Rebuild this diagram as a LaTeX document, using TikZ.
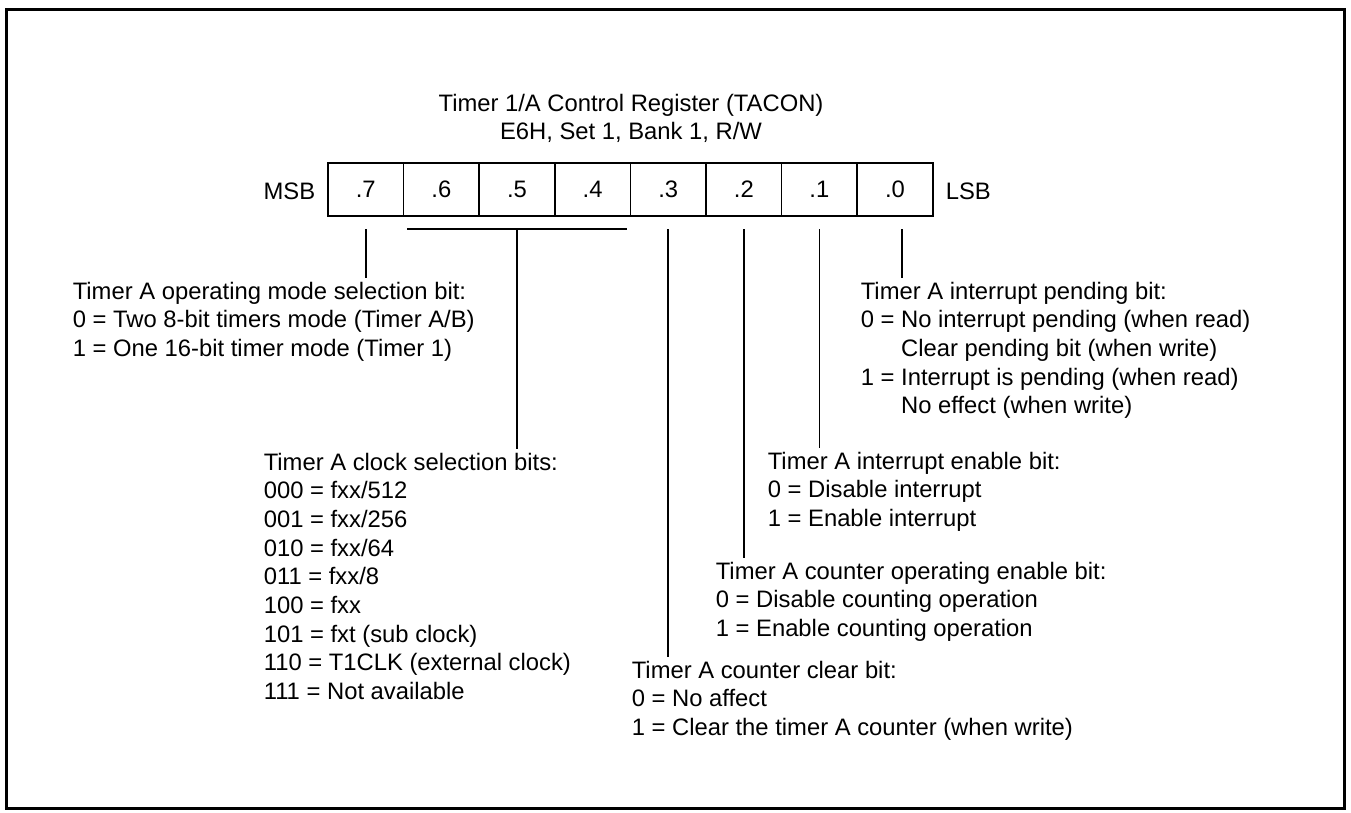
\documentclass[tikz,border=0pt]{standalone}
\usepackage{fontspec}
\setmainfont{Liberation Sans}
\begin{document}
\begin{tikzpicture}[x=1pt,y=-1pt,line width=1.6pt,
  txt/.style={font=\fontsize{23.8}{28.7}\selectfont},
  cell/.style={draw,minimum width=75.6pt,minimum height=53pt,inner sep=0pt,txt},
  desc/.style={txt,align=left,anchor=north west,inner xsep=0pt,inner ysep=3pt},
  conn/.style={line width=1.6pt}]
\useasboundingbox (0,0) rectangle (1351,812);
\draw[line width=3pt] (6.5,9.5) rectangle (1344.5,808.5);
% title
\node[txt,align=center,anchor=north,inner sep=0pt] (title) at (631,93)
  {Timer 1/A Control Register (TACON)\\E6H, Set 1, Bank 1, R/W};
% register cells
\foreach \b [count=\k from 0] in {7,6,5,4,3,2,1,0}
  \node[cell] (b\b) at ({328+75.6*\k+37.8},189.5) {.\b};
\node[txt,anchor=base east,inner sep=0pt] (msb) at (316,199) {MSB};
\node[txt,anchor=base west,inner sep=0pt] (lsb) at (945,199) {LSB};
% descriptions
\node[desc] (t7) at (72,278) {Timer A operating mode selection bit:\\0 = Two 8-bit timers mode (Timer A/B)\\1 = One 16-bit timer mode (Timer 1)};
\node[desc] (t64) at (263,449) {Timer A clock selection bits:\\000 = fxx/512\\001 = fxx/256\\010 = fxx/64\\011 = fxx/8\\100 = fxx\\101 = fxt (sub clock)\\110 = T1CLK (external clock)\\111 = Not available};
\node[desc] (t3) at (631,657) {Timer A counter clear bit:\\0 = No affect\\1 = Clear the timer A counter (when write)};
\node[desc] (t2) at (715,558) {Timer A counter operating enable bit:\\0 = Disable counting operation\\1 = Enable counting operation};
\node[desc] (t1) at (767,448) {Timer A interrupt enable bit:\\0 = Disable interrupt\\1 = Enable interrupt};
\node[desc] (t0) at (860,278) {Timer A interrupt pending bit:\\0 = No interrupt pending (when read)\\\phantom{0 = }Clear pending bit (when write)\\1 = Interrupt is pending (when read)\\\phantom{1 = }No effect (when write)};
% connectors
\coordinate (brL) at (407,229);
\coordinate (brR) at (627,229);
\coordinate (s0) at (902,229);
\draw[conn] (brL) -- (brR);
\draw[conn] (b7.south |- brL) -- (b7.south |- t7.north);
\draw[conn] (b5.south |- brL) -- (b5.south |- t64.north);
\draw[conn] (b3.south |- brL) -- (b3.south |- t3.north);
\draw[conn] (b2.south |- brL) -- (b2.south |- t2.north);
\draw[conn] (b1.south |- brL) -- (b1.south |- t1.north);
\draw[conn] (s0) -- (s0 |- t0.north);
\end{tikzpicture}
\end{document}
